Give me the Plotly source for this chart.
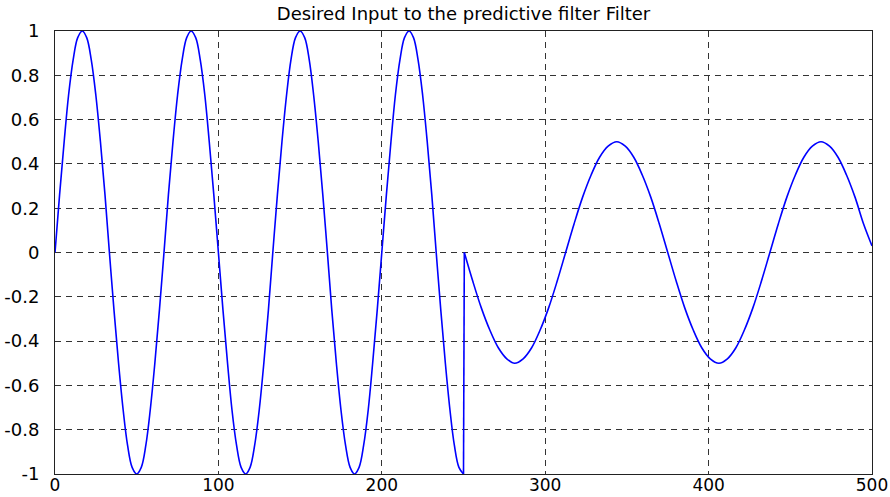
import plotly.graph_objects as go

# ---- data ----
part1_x = [0, 2.8, 5.6, 8.3, 11.1, 13.9, 16.7, 19.4, 22.2, 25, 27.8, 30.6,
           33.3, 36.1, 38.9, 41.7, 44.4, 47.2, 50, 52.8, 55.6, 58.3, 61.1, 63.9,
           66.7, 69.4, 72.2, 75, 77.8, 80.6, 83.3, 86.1, 88.9, 91.7, 94.4, 97.2,
           100, 102.8, 105.6, 108.3, 111.1, 113.9, 116.7, 119.4, 122.2, 125, 127.8, 130.6,
           133.3, 136.1, 138.9, 141.7, 144.4, 147.2, 150, 152.8, 155.6, 158.3, 161.1, 163.9,
           166.7, 169.4, 172.2, 175, 177.8, 180.6, 183.3, 186.1, 188.9, 191.7, 194.4, 197.2,
           200, 202.8, 205.6, 208.3, 211.1, 213.9, 216.7, 219.4, 222.2, 225, 227.8, 230.6,
           233.3, 236.1, 238.9, 241.7, 244.4, 247.2, 250]
part1_y = [0, 0.26, 0.5, 0.71, 0.87, 0.97, 1, 0.97, 0.87, 0.71, 0.5, 0.26,
           0, -0.26, -0.5, -0.71, -0.87, -0.97, -1, -0.97, -0.87, -0.71, -0.5, -0.26,
           0, 0.26, 0.5, 0.71, 0.87, 0.97, 1, 0.97, 0.87, 0.71, 0.5, 0.26,
           0, -0.26, -0.5, -0.71, -0.87, -0.97, -1, -0.97, -0.87, -0.71, -0.5, -0.26,
           0, 0.26, 0.5, 0.71, 0.87, 0.97, 1, 0.97, 0.87, 0.71, 0.5, 0.26,
           0, -0.26, -0.5, -0.71, -0.87, -0.97, -1, -0.97, -0.87, -0.71, -0.5, -0.26,
           0, 0.26, 0.5, 0.71, 0.87, 0.97, 1, 0.97, 0.87, 0.71, 0.5, 0.26,
           0, -0.26, -0.5, -0.71, -0.87, -0.97, -1]

part2_x = [250.5, 255.7, 260.9, 266.1, 271.3, 276.5, 281.3, 286.5, 291.7, 296.9, 302.1, 307.3,
           312.5, 317.7, 322.9, 328.1, 333.3, 338.5, 343.8, 349, 354.2, 359.4, 364.6, 369.8,
           375, 380.2, 385.4, 390.6, 395.8, 401, 406.3, 411.5, 416.7, 421.9, 427.1, 432.3,
           437.5, 442.7, 447.9, 453.1, 458.3, 463.5, 468.8, 474, 479.2, 484.4, 489.6, 494.8, 500]
part2_y = [0, -0.13, -0.25, -0.35, -0.43, -0.48, -0.5, -0.48, -0.43, -0.35, -0.25, -0.13,
           0, 0.13, 0.25, 0.35, 0.43, 0.48, 0.5, 0.48, 0.43, 0.35, 0.25, 0.13,
           0, -0.13, -0.25, -0.35, -0.43, -0.48, -0.5, -0.48, -0.43, -0.35, -0.25, -0.13,
           0, 0.13, 0.25, 0.35, 0.43, 0.48, 0.5, 0.48, 0.43, 0.35, 0.25, 0.13, 0.03]

x_ticks = [0, 100, 200, 300, 400, 500]
x_ticktext = ["0", "100", "200", "300", "400", "500"]
y_ticks = [-1, -0.8, -0.6, -0.4, -0.2, 0, 0.2, 0.4, 0.6, 0.8, 1]
y_ticktext = ["-1", "-0.8", "-0.6", "-0.4", "-0.2", "0", "0.2", "0.4", "0.6", "0.8", "1"]

title_text = "Desired Input to the predictive filter Filter"

LINE = dict(color="#0000FF", width=1.6)
FONT = "DejaVu Sans"

fig = go.Figure()
fig.add_trace(go.Scatter(x=part1_x, y=part1_y, mode="lines",
                         line=dict(shape="spline", **LINE), showlegend=False))
fig.add_trace(go.Scatter(x=[part1_x[-1], part2_x[0]], y=[part1_y[-1], part2_y[0]],
                         mode="lines", line=dict(shape="linear", **LINE), showlegend=False))
fig.add_trace(go.Scatter(x=part2_x, y=part2_y, mode="lines",
                         line=dict(shape="spline", **LINE), showlegend=False))

axis_common = dict(
    showline=True, linecolor="#222222", linewidth=1, mirror=True,
    showgrid=True, gridcolor="#333333", gridwidth=1, griddash="6px,5px",
    zeroline=False, ticks="", automargin=False,
)

fig.update_layout(
    width=890, height=497,
    margin=dict(l=55, r=18, t=31, b=23),
    paper_bgcolor="white", plot_bgcolor="white",
    title=dict(text=title_text, x=(55 + 872) / 2 / 890, xanchor="center",
               y=1 - 14 / 497, yanchor="middle", yref="container",
               font=dict(family=FONT, size=18, color="#000000")),
    xaxis=dict(range=[0, 500], tickvals=x_ticks, ticktext=x_ticktext,
               ticklabelstandoff=-4,
               tickfont=dict(family=FONT, size=17, color="#000000"), **axis_common),
    yaxis=dict(range=[-1, 1], tickvals=y_ticks, ticktext=y_ticktext,
               ticklabelstandoff=11,
               tickfont=dict(family=FONT, size=18, color="#000000"), **axis_common),
)

fig.write_html("out.html")
